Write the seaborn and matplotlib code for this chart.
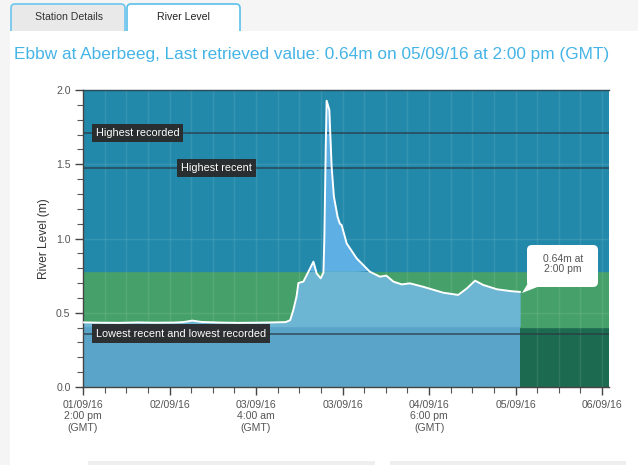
import numpy as np
import matplotlib
matplotlib.use("Agg")
import matplotlib.pyplot as plt
from matplotlib.patches import FancyBboxPatch, Rectangle, Polygon
from matplotlib.ticker import MultipleLocator, FixedLocator
import seaborn as sns

# ---------------- data ----------------
# hours after 01/09/16 2:00 pm (GMT)
hours = [0, 4, 8, 12, 16, 20, 22, 24, 26, 30, 34, 38, 42, 44.5, 45.5, 46.2, 46.9, 47.3,
         48.4, 49.5, 50.6, 51.3, 52.2, 52.8, 53.0, 53.3, 53.5, 54.1, 54.3, 54.6, 55.1,
         55.9, 56.4, 56.8, 57.5, 57.9, 60.1, 63.0, 65.2, 66.6, 68.2, 70.0, 71.8, 74.7,
         79.1, 82.4, 84.3, 86.1, 87.9, 90.9, 93.8, 96.0]
level = [0.435, 0.433, 0.432, 0.435, 0.433, 0.434, 0.437, 0.447, 0.438, 0.434, 0.432, 0.433,
         0.435, 0.437, 0.45, 0.52, 0.61, 0.70, 0.71, 0.776, 0.844, 0.765, 0.732, 0.77,
         1.00, 1.60, 1.928, 1.865, 1.708, 1.483, 1.282, 1.147, 1.10, 1.09, 1.012, 0.967,
         0.866, 0.776, 0.743, 0.75, 0.709, 0.691, 0.698, 0.675, 0.635, 0.62, 0.664, 0.716,
         0.687, 0.658, 0.646, 0.64]

tick_hours = [0, 19, 38, 57, 76, 95, 114]
tick_labels = ["01/09/16\n2:00 pm\n(GMT)", "02/09/16", "03/09/16\n4:00 am\n(GMT)",
               "03/09/16", "04/09/16\n6:00 pm\n(GMT)", "05/09/16", "06/09/16"]
y_ticks = [0.0, 0.5, 1.0, 1.5, 2.0]

band_low = 0.406       # top of dark-green band
band_high = 0.783      # top of green band
highest_recorded = 1.71
highest_recent = 1.475
lowest_recorded = 0.36

title = "Ebbw at Aberbeeg, Last retrieved value: 0.64m on 05/09/16 at 2:00 pm (GMT)"
callout = "0.64m at\n2:00 pm"

# ---------------- style ----------------
sns.set_style("white")
plt.rcParams["font.family"] = ["Liberation Sans", "DejaVu Sans"]

W, H = 638, 465
fig = plt.figure(figsize=(W / 100, H / 100), dpi=100)
fig.patch.set_facecolor("white")

# background / UI layer in pixel coords
bg = fig.add_axes([0, 0, 1, 1], zorder=-2)
bg.set_xlim(0, W); bg.set_ylim(H, 0); bg.axis("off")
bg.add_patch(Rectangle((0, 0), W, 31, fc="#f5f5f5", ec="none"))
bg.add_patch(Rectangle((0, 0), 10, H, fc="#f5f5f5", ec="none"))
bg.add_patch(FancyBboxPatch((11, 4), 114, 31, boxstyle="round,pad=0,rounding_size=4",
                            fc="#e9e9e9", ec="#6cc6ee", lw=1.2))
bg.add_patch(FancyBboxPatch((127, 4), 113, 31, boxstyle="round,pad=0,rounding_size=4",
                            fc="white", ec="#5bc0eb", lw=1.2))
bg.add_patch(Rectangle((10, 31), W, H, fc="white", ec="none"))
bg.add_patch(Rectangle((128, 25), 111, 8, fc="white", ec="none"))
bg.text(69, 17, "Station Details", ha="center", va="center", fontsize=7.6, color="#333333")
bg.text(183, 17, "River Level", ha="center", va="center", fontsize=7.6, color="#222222")
bg.text(14, 55, title, ha="left", va="center", fontsize=12.4, color="#45b4e6")
bg.add_patch(Rectangle((88, 461), 287, 6, fc="#eeeeee", ec="none"))
bg.add_patch(Rectangle((390, 461), 236, 6, fc="#eeeeee", ec="none"))

# ---------------- main chart ----------------
ax = fig.add_axes([83 / W, 1 - 387 / H, (608.5 - 83) / W, (387 - 90) / H])
x = np.array(hours)
y = np.array(level)

ax.axhspan(0, band_low, color="#1c6b51", zorder=0)
ax.axhspan(band_low, band_high, color="#46a06a", zorder=0)
ax.axhspan(band_high, 2.0, color="#2389aa", zorder=0)

ax.fill_between(x, 0, np.minimum(y, band_low), color="#5ba4c9", lw=0, zorder=1)
ax.fill_between(x, band_low, np.clip(y, band_low, band_high), color="#6cb5d3", lw=0, zorder=1)
ax.fill_between(x, band_high, np.maximum(y, band_high), color="#5eb0e4", lw=0, zorder=1)

sns.lineplot(x=x, y=y, ax=ax, color="white", lw=1.4, zorder=3)

for v in [highest_recorded, highest_recent, lowest_recorded]:
    ax.axhline(v, color="#2a3b45", lw=1.1, alpha=0.85, zorder=2)

box = dict(boxstyle="square,pad=0.38", fc="#2a2a2a", ec="none", alpha=0.95)
ax.text(2.8, highest_recorded, "Highest recorded", color="white", fontsize=7.8,
        va="center", ha="left", bbox=box, zorder=4)
ax.text(21.6, highest_recent, "Highest recent", color="white", fontsize=7.8,
        va="center", ha="left", bbox=box, zorder=4)
ax.text(2.8, lowest_recorded, "Lowest recent and lowest recorded", color="white",
        fontsize=7.8, va="center", ha="left", bbox=box, zorder=4)

ax.set_xlim(0, 115.4)
ax.set_ylim(0, 2.0)
ax.xaxis.set_major_locator(FixedLocator(tick_hours))
ax.set_xticklabels(tick_labels)
ax.xaxis.set_minor_locator(MultipleLocator(4.75))
ax.yaxis.set_major_locator(FixedLocator(y_ticks))
ax.set_yticklabels([f"{t:.1f}" for t in y_ticks])
ax.yaxis.set_minor_locator(MultipleLocator(0.1))

ax.grid(False)
for gx in np.arange(4.75, 115.4, 4.75):
    ax.axvline(gx, color="white", alpha=0.09, lw=1, zorder=0.5)
for gy in y_ticks[1:-1]:
    ax.axhline(gy, color="white", alpha=0.09, lw=1, zorder=0.5)

ax.tick_params(axis="both", which="major", length=6, width=1, color="#444444",
               labelcolor="#555555", labelsize=7.6, direction="out")
ax.tick_params(axis="both", which="minor", length=4, width=0.8, color="#555555",
               direction="out")
ax.tick_params(axis="x", which="both", bottom=True, pad=3)
ax.tick_params(axis="y", which="both", left=True, pad=3)
ax.set_xlabel("")
ax.set_ylabel("River Level (m)", fontsize=8.6, color="#333333", labelpad=4)
for s in ["left", "bottom"]:
    ax.spines[s].set_color("#444444"); ax.spines[s].set_linewidth(1)
ax.spines["top"].set_color("#2a4a55"); ax.spines["top"].set_linewidth(1)
ax.spines["right"].set_visible(False)

# ---------------- callout ----------------
ov = fig.add_axes([0, 0, 1, 1], zorder=10)
ov.set_xlim(0, W); ov.set_ylim(H, 0); ov.axis("off"); ov.patch.set_alpha(0)
ov.add_patch(FancyBboxPatch((527, 245), 71, 42, boxstyle="round,pad=0,rounding_size=5",
                            fc="white", ec="none"))
ov.add_patch(Polygon([(530, 280), (522, 293), (540, 286)], closed=True, fc="white", ec="none"))
ov.text(563, 264, callout, ha="center", va="center", fontsize=7.5, color="#555555",
        linespacing=1.1)

fig.savefig("out.png", dpi=100)
